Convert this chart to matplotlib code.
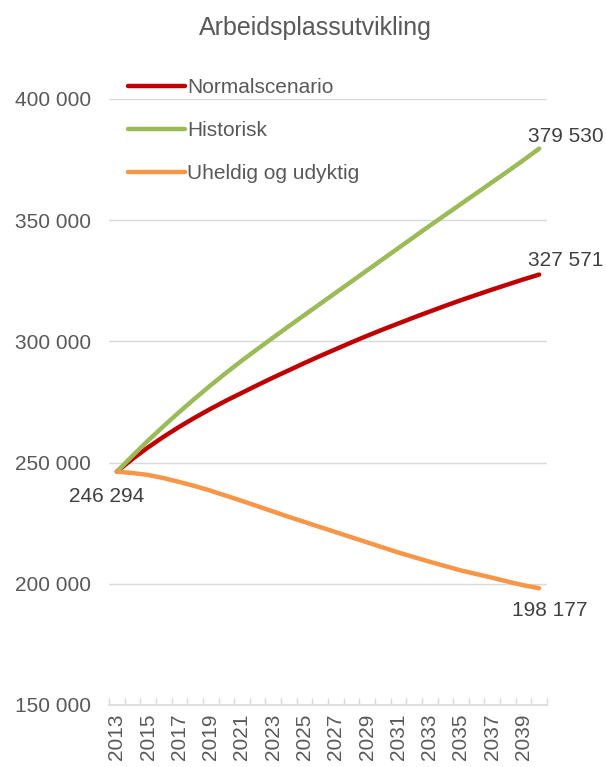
import matplotlib
matplotlib.use('Agg')
import matplotlib.pyplot as plt
from matplotlib.ticker import FuncFormatter
import numpy as np

plt.rcParams['font.family'] = ['Liberation Sans', 'DejaVu Sans']

years = list(range(2013, 2041))

normalscenario = [246294, 251500, 256300, 260700, 264800, 268600, 272200, 275600,
                  278800, 282000, 285100, 288100, 291100, 294000, 296800, 299600,
                  302300, 304900, 307400, 309900, 312300, 314700, 317000, 319200,
                  321400, 323500, 325600, 327571]
historisk = [246294, 252800, 259100, 265100, 270900, 276500, 281900, 287100,
             292100, 296900, 301600, 306300, 310900, 315500, 320100, 324700,
             329300, 333900, 338500, 343100, 347700, 352200, 356700, 361200,
             365700, 370200, 374800, 379530]
uheldig = [246294, 245700, 244900, 243600, 242000, 240300, 238400, 236300,
           234200, 232000, 229800, 227600, 225500, 223400, 221300, 219200,
           217100, 215000, 212900, 211000, 209100, 207300, 205500, 204000,
           202500, 200900, 199400, 198177]

series_names = ['Normalscenario', 'Historisk', 'Uheldig og udyktig']
colors = ['#C00000', '#9BBB59', '#F79646']

fig = plt.figure(figsize=(6.06, 7.67), dpi=100)
ax = fig.add_axes([109 / 606, 1 - 705 / 767, (547 - 109) / 606, (705 - 99) / 767])

for vals, name, col in zip([normalscenario, historisk, uheldig], series_names, colors):
    ax.plot(years, vals, color=col, lw=3.2, label=name, solid_capstyle='round')

ax.set_xlim(2012.5, 2040.5)
ax.set_ylim(150000, 400000)
ax.set_yticks(np.arange(150000, 400001, 50000))
ax.yaxis.set_major_formatter(FuncFormatter(lambda v, p: f'{int(v):,}'.replace(',', ' ')))
ax.grid(axis='y', color='#D9D9D9', lw=1)
ax.set_axisbelow(True)

ax.set_xticks(years[::2])
ax.set_xticklabels([str(y) for y in years[::2]], rotation=90)
ax.set_xticks(np.arange(2012.5, 2041, 1), minor=True)
ax.tick_params(axis='x', which='major', length=0, pad=6, labelsize=15, labelcolor='#595959')
ax.tick_params(axis='x', which='minor', length=5, direction='in', color='#D9D9D9', width=1)
ax.tick_params(axis='y', length=0, pad=13, labelsize=15, labelcolor='#595959')

for s in ['top', 'right', 'left']:
    ax.spines[s].set_visible(False)
ax.spines['bottom'].set_color('#D9D9D9')
ax.spines['bottom'].set_linewidth(1.2)

# endepunkt-etiketter
lab = dict(fontsize=15, color='#404040', textcoords='offset pixels', ha='center', va='center')
ax.annotate(f'{historisk[-1]:,}'.replace(',', ' '), (years[-1], historisk[-1]), xytext=(27, 12), **lab)
ax.annotate(f'{normalscenario[-1]:,}'.replace(',', ' '), (years[-1], normalscenario[-1]), xytext=(27, 14), **lab)
ax.annotate(f'{uheldig[-1]:,}'.replace(',', ' '), (years[-1], uheldig[-1]), xytext=(11, -22), **lab)
ax.annotate(f'{normalscenario[0]:,}'.replace(',', ' '), (years[0], normalscenario[0]), xytext=(-10, -25), **lab)

leg = fig.legend(loc='upper left', bbox_to_anchor=(128 / 606, 1 - 78 / 767), frameon=False,
                 fontsize=15, handlelength=2.75, handletextpad=0.1, labelspacing=1.15,
                 borderpad=0, borderaxespad=0)
for t in leg.get_texts():
    t.set_color('#595959')

fig.text(315 / 606, 1 - 28 / 767, 'Arbeidsplassutvikling', ha='center', va='center',
         fontsize=18, color='#595959')

fig.savefig('out.png', dpi=100)
